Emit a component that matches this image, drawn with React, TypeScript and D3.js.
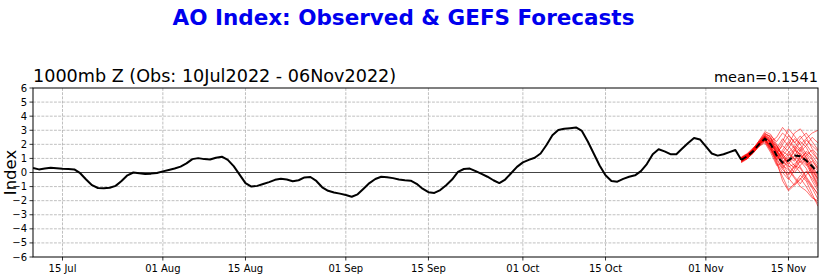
import React from "react";
import * as d3 from "d3";

const obsStart = "2022-07-10";
const observed = [
  0.32, 0.22, 0.28, 0.33, 0.3, 0.27, 0.25, 0.22, -0.05, -0.5,
  -0.9, -1.1, -1.12, -1.08, -0.95, -0.6, -0.2, 0.0, -0.06, -0.1,
  -0.08, -0.03, 0.08, 0.18, 0.28, 0.42, 0.65, 0.95, 1.02, 0.95,
  0.92, 1.05, 1.12, 0.9, 0.45, -0.15, -0.75, -1.0, -0.95, -0.82,
  -0.68, -0.52, -0.45, -0.5, -0.62, -0.55, -0.35, -0.32, -0.6, -1.05,
  -1.3, -1.42, -1.5, -1.6, -1.72, -1.55, -1.15, -0.75, -0.46, -0.3,
  -0.33, -0.4, -0.5, -0.55, -0.58, -0.8, -1.15, -1.4, -1.45, -1.25,
  -0.9, -0.5, 0.05, 0.25, 0.28, 0.1, -0.1, -0.3, -0.55, -0.75,
  -0.5, -0.05, 0.4, 0.72, 0.9, 1.05, 1.35, 1.95, 2.65, 3.02,
  3.1, 3.15, 3.2, 2.95, 2.2, 1.35, 0.5, -0.2, -0.6, -0.65,
  -0.45, -0.3, -0.2, 0.1, 0.6, 1.3, 1.65, 1.5, 1.3, 1.3,
  1.7, 2.1, 2.45, 2.35, 1.85, 1.35, 1.2, 1.3, 1.45, 1.6,
];

const fcstStart = "2022-11-07";
const ensembleMean = [0.9, 1.15, 1.5, 2.0, 2.4, 2.0, 1.2, 0.7, 0.85, 1.2, 1.15, 0.85, 0.45, -0.05];

const members = [
  [0.75, 1.0, 1.4, 1.9, 2.5, 2.2, 1.5, 2.2, 3.1, 2.6, 2.0, 2.4, 2.8, 3.0],
  [1.05, 1.3, 1.7, 2.2, 2.3, 1.6, 0.6, -0.3, -1.2, -0.8, -0.2, -0.6, -1.5, -2.4],
  [0.9, 1.1, 1.4, 1.85, 2.6, 2.4, 1.9, 1.3, 0.8, 1.5, 2.2, 1.8, 1.0, 0.4],
  [0.7, 0.95, 1.5, 2.25, 2.8, 2.5, 1.2, 0.5, 0.2, -0.4, -1.0, -1.3, -1.8, -2.0],
  [1.1, 1.35, 1.75, 2.0, 2.2, 1.5, 0.9, 1.4, 2.0, 2.8, 3.1, 2.5, 1.7, 1.2],
  [0.9, 1.15, 1.55, 2.05, 2.4, 1.9, 1.0, 0.3, 0.9, 1.6, 1.3, 0.7, 0.0, -0.8],
  [0.8, 1.0, 1.4, 1.95, 2.5, 2.1, 1.6, 0.9, 0.4, 0.6, 1.0, 1.4, 0.9, 0.2],
  [1.0, 1.3, 1.65, 2.2, 2.7, 2.6, 2.2, 2.8, 2.4, 1.8, 1.2, 0.6, -0.2, -1.0],
  [0.9, 1.1, 1.5, 2.0, 2.3, 1.7, 0.7, 0.0, -0.5, 0.2, 0.8, 0.3, -0.6, -1.3],
  [0.75, 1.05, 1.55, 2.1, 2.6, 2.0, 1.4, 1.9, 1.5, 0.9, 1.6, 2.3, 1.9, 1.5],
  [1.05, 1.25, 1.5, 1.85, 2.1, 1.4, 0.5, 0.7, 1.3, 1.0, 0.4, -0.3, -0.9, -1.6],
  [0.9, 1.2, 1.6, 2.1, 2.5, 2.3, 1.8, 1.2, 1.7, 2.4, 2.0, 1.3, 0.6, 0.1],
  [0.8, 1.05, 1.5, 2.0, 2.4, 1.8, 0.8, -0.6, -1.3, -0.9, -0.5, 0.1, -0.4, -1.1],
  [1.0, 1.2, 1.65, 2.25, 2.9, 2.7, 2.0, 1.1, 0.6, 1.2, 1.8, 1.1, 0.3, -0.5],
  [0.9, 1.0, 1.4, 1.85, 2.2, 1.6, 1.1, 1.6, 2.2, 1.7, 0.9, 0.5, 0.8, 0.3],
  [0.8, 1.2, 1.7, 2.2, 2.55, 2.1, 1.3, 0.6, 1.0, 0.5, 0.0, -0.5, -1.1, -1.9],
  [1.05, 1.3, 1.6, 2.05, 2.45, 2.2, 2.5, 3.2, 2.7, 2.1, 2.6, 2.0, 1.4, 0.9],
  [0.9, 1.1, 1.5, 2.0, 2.35, 1.75, 0.9, 0.2, -0.2, 0.4, 1.2, 0.9, 0.1, -0.4],
  [0.75, 1.0, 1.35, 1.9, 2.45, 2.0, 1.5, 1.0, 1.4, 1.9, 1.5, 1.9, 2.5, 2.1],
  [1.0, 1.25, 1.65, 2.15, 2.6, 2.3, 1.6, 0.8, 0.3, -0.3, -0.8, -0.2, 0.4, -0.3],
  [0.9, 1.15, 1.5, 2.0, 2.4, 1.9, 1.2, 0.7, 1.1, 0.8, 1.4, 0.8, -0.1, -0.9],
  [0.85, 1.1, 1.55, 2.1, 2.65, 2.4, 1.7, 1.3, 0.5, 0.0, 0.5, 1.0, 0.5, -0.2],
  [1.05, 1.2, 1.5, 1.95, 2.3, 1.8, 1.3, 2.0, 2.6, 2.2, 1.6, 1.0, 0.2, -0.6],
  [0.9, 1.1, 1.45, 2.0, 2.5, 2.2, 1.4, 0.4, -0.4, -0.9, -0.4, -1.0, -1.7, -2.2],
  [0.8, 1.15, 1.6, 2.05, 2.35, 1.7, 1.0, 1.5, 1.2, 1.7, 2.4, 2.8, 2.2, 1.6],
  [0.95, 1.2, 1.55, 2.1, 2.75, 2.5, 1.9, 1.1, 0.7, 0.3, 0.9, 1.5, 1.2, 0.6],
  [0.85, 1.1, 1.45, 1.95, 2.3, 1.9, 1.5, 0.6, -0.1, 0.5, 0.3, -0.4, -1.0, -1.5],
  [0.95, 1.2, 1.6, 2.05, 2.55, 2.1, 1.7, 2.4, 1.9, 1.3, 0.7, 1.2, 1.6, 0.9],
];

const xDomain = ["2022-07-10", "2022-11-20"];
const xTickDates = ["2022-07-15", "2022-08-01", "2022-08-15", "2022-09-01", "2022-09-15", "2022-10-01", "2022-10-15", "2022-11-01", "2022-11-15"];
const yTicks = [-6, -5, -4, -3, -2, -1, 0, 1, 2, 3, 4, 5, 6];

const title = "AO Index: Observed & GEFS Forecasts";
const subtitle = "1000mb Z (Obs: 10Jul2022 - 06Nov2022)";
const meanLabel = "mean=0.1541";
const yLabel = "Index";

const W = 827, H = 279;
const M = { left: 33, right: 818, top: 88, bottom: 257 };
const FONT = "DejaVu Sans, sans-serif";
const DAY = 86400000;

export default function App() {
  const parse = (s: string) => new Date(s + "T00:00:00Z");
  const x = d3.scaleUtc().domain(xDomain.map(parse)).range([M.left, M.right]);
  const y = d3.scaleLinear().domain([-6, 6]).range([M.bottom, M.top]);
  const fmt = d3.utcFormat("%d %b");

  const t0 = parse(obsStart).getTime();
  const f0 = parse(fcstStart).getTime();
  const obsPts: [Date, number][] = observed.map((v, i) => [new Date(t0 + i * DAY), v]);
  const meanPts: [Date, number][] = ensembleMean.map((v, i) => [new Date(f0 + i * DAY), v]);
  const line = d3.line<[Date, number]>().x((d) => x(d[0])).y((d) => y(d[1]));
  const obsPath = line([...obsPts, meanPts[0]]) || "";
  const meanPath = line(meanPts) || "";

  return (
    <svg width={W} height={H} style={{ position: "absolute", left: 0, top: 0, background: "#fff" }} fontFamily={FONT}>
      <defs>
        <clipPath id="plot">
          <rect x={M.left} y={M.top} width={M.right - M.left} height={M.bottom - M.top} />
        </clipPath>
      </defs>
      <text x={403.5} y={25} textAnchor="middle" fontSize={21.5} fontWeight="bold" fill="#0000ee">{title}</text>
      <text x={M.left} y={82} fontSize={17.6} fill="#000">{subtitle}</text>
      <text x={M.right} y={82} textAnchor="end" fontSize={14.5} fill="#000">{meanLabel}</text>
      <text transform={`translate(16,${(M.top + M.bottom) / 2}) rotate(-90)`} textAnchor="middle" fontSize={16.5}>{yLabel}</text>

      {/* grid */}
      <g stroke="#b0b0b0" strokeWidth={0.8} strokeDasharray="2.9,1.3">
        {yTicks.slice(1, -1).map((t) => (
          <line key={"gy" + t} x1={M.left} x2={M.right} y1={y(t)} y2={y(t)} />
        ))}
        {xTickDates.map((s) => (
          <line key={"gx" + s} x1={x(parse(s))} x2={x(parse(s))} y1={M.top} y2={M.bottom} />
        ))}
      </g>
      <line x1={M.left} x2={M.right} y1={y(0)} y2={y(0)} stroke="#444" strokeWidth={1} />

      <g clipPath="url(#plot)">
        {members.map((m, k) => (
          <path
            key={k}
            d={line(m.map((v, i) => [new Date(f0 + i * DAY), v] as [Date, number])) || ""}
            fill="none"
            stroke="#ff0000"
            strokeOpacity={0.65}
            strokeWidth={0.85}
          />
        ))}
        <path d={obsPath} fill="none" stroke="#000" strokeWidth={2} strokeLinejoin="round" />
        <path d={meanPath} fill="none" stroke="#000" strokeWidth={2} strokeDasharray="6,3.5" />
      </g>

      <rect x={M.left} y={M.top} width={M.right - M.left} height={M.bottom - M.top} fill="none" stroke="#000" strokeWidth={1} />

      {/* ticks */}
      <g fontSize={10} fill="#000">
        {yTicks.map((t) => (
          <g key={"yt" + t}>
            <line x1={M.left - 3.5} x2={M.left} y1={y(t)} y2={y(t)} stroke="#000" strokeWidth={0.8} />
            <text x={M.left - 6} y={y(t)} dy="0.35em" textAnchor="end">{t < 0 ? "\u2212" + Math.abs(t) : String(t)}</text>
          </g>
        ))}
        {xTickDates.map((s) => (
          <g key={"xt" + s}>
            <line x1={x(parse(s))} x2={x(parse(s))} y1={M.bottom} y2={M.bottom + 3.5} stroke="#000" strokeWidth={0.8} />
            <text x={x(parse(s))} y={M.bottom + 15} textAnchor="middle">{fmt(parse(s))}</text>
          </g>
        ))}
      </g>
    </svg>
  );
}
